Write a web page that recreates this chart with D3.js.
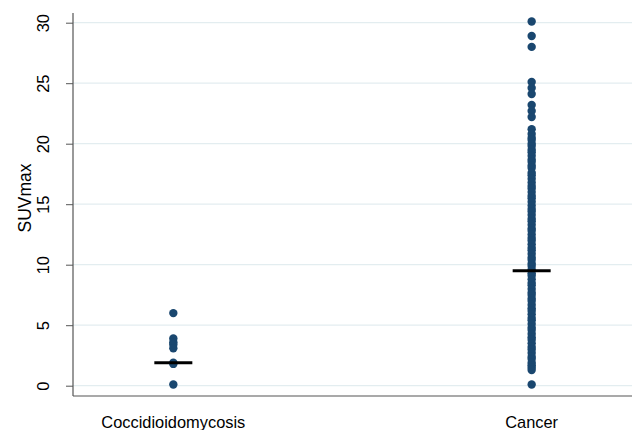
<!DOCTYPE html>
<html>
<head>
<meta charset="utf-8">
<script src="https://cdn.jsdelivr.net/npm/d3@7"></script>
<style>
  body { margin: 0; background: #fff; }
  text { font-family: "Liberation Sans", Arial, sans-serif; }
</style>
</head>
<body>
<svg id="chart"></svg>
<script>
const WIDTH = 633;
const HEIGHT = 430;

const categories = ["Coccidioidomycosis", "Cancer"];
const yTicks = [0, 5, 10, 15, 20, 25, 30];

const cocciValues = [6.0, 3.9, 3.6, 3.4, 3.1, 1.9, 1.8, 0.1];
const cancerValues = [
  30.1, 28.9, 28.0, 25.1, 24.6, 24.1, 23.2, 22.7, 22.2, 21.2, 20.8, 20.5,
  20.3, 20.0, 19.8, 19.5, 19.3, 19.0, 18.7, 18.5, 18.2, 18.0, 17.6, 17.4,
  17.1, 16.8, 16.5, 16.3, 16.0, 15.7, 15.5, 15.2, 14.9, 14.6, 14.4, 14.1,
  13.8, 13.6, 13.3, 13.0, 12.8, 12.5, 12.2, 12.0, 11.7, 11.4, 11.2, 10.9,
  10.6, 10.4, 10.1, 9.9, 9.6, 9.3, 9.1, 8.8, 8.5, 8.3, 8.0, 7.7, 7.5, 7.2,
  7.0, 6.7, 6.4, 6.2, 5.9, 5.6, 5.4, 5.1, 4.8, 4.6, 4.3, 4.0, 3.8, 3.5,
  3.2, 3.0, 2.7, 2.4, 2.2, 1.9, 1.7, 1.5, 1.3, 0.1
];
const medians = [1.9, 9.5];

const MARGIN = { top: 13, bottom: 34, right: 1, left: 73 };

const svg = d3.select("#chart")
  .attr("width", WIDTH)
  .attr("height", HEIGHT);

const escala_x = d3.scalePoint()
  .domain(categories)
  .range([MARGIN.left, WIDTH - MARGIN.right])
  .padding(0.28);

const escala_y = d3.scaleLinear()
  .domain([0, 30])
  .range([385.7, 22.7]);

// gridlines
svg.append("g")
  .selectAll("line")
  .data(yTicks)
  .join("line")
  .attr("x1", MARGIN.left)
  .attr("x2", WIDTH - MARGIN.right)
  .attr("y1", d => escala_y(d))
  .attr("y2", d => escala_y(d))
  .attr("stroke", "#e3edf0")
  .attr("stroke-width", 1.2);

// y axis
const ejeY = d3.axisLeft(escala_y).tickValues(yTicks).tickSize(7).tickSizeOuter(0);
const gy = svg.append("g")
  .attr("transform", `translate(${MARGIN.left}, 0)`)
  .call(ejeY);
gy.select(".domain").remove();
gy.selectAll(".tick line").attr("stroke", "#555");
gy.selectAll("text")
  .attr("font-size", 16.5)
  .attr("fill", "#000")
  .attr("transform", "rotate(-90)")
  .attr("x", 0)
  .attr("y", -30)
  .attr("dy", "0.35em")
  .attr("text-anchor", "middle");

svg.append("line")
  .attr("x1", MARGIN.left)
  .attr("x2", MARGIN.left)
  .attr("y1", MARGIN.top)
  .attr("y2", HEIGHT - MARGIN.bottom)
  .attr("stroke", "#555")
  .attr("stroke-width", 1.2);

// x axis
svg.append("line")
  .attr("x1", MARGIN.left)
  .attr("x2", WIDTH - MARGIN.right)
  .attr("y1", HEIGHT - MARGIN.bottom)
  .attr("y2", HEIGHT - MARGIN.bottom)
  .attr("stroke", "#555")
  .attr("stroke-width", 1.2);

svg.append("g")
  .selectAll("text")
  .data(categories)
  .join("text")
  .attr("x", d => escala_x(d))
  .attr("y", 428)
  .attr("text-anchor", "middle")
  .attr("font-size", 16.4)
  .text(d => d);

svg.append("text")
  .attr("transform", "translate(31, 198) rotate(-90)")
  .attr("text-anchor", "middle")
  .attr("font-size", 17.5)
  .text("SUVmax");

// points
const series = [cocciValues, cancerValues];
series.forEach((vals, i) => {
  svg.append("g")
    .selectAll("circle")
    .data(vals)
    .join("circle")
    .attr("cx", escala_x(categories[i]))
    .attr("cy", d => escala_y(d))
    .attr("r", 4.2)
    .attr("fill", "#1a476f");
});

// medians
svg.append("g")
  .selectAll("line")
  .data(medians)
  .join("line")
  .attr("x1", (d, i) => escala_x(categories[i]) - 19)
  .attr("x2", (d, i) => escala_x(categories[i]) + 19)
  .attr("y1", d => escala_y(d))
  .attr("y2", d => escala_y(d))
  .attr("stroke", "#000")
  .attr("stroke-width", 3);
</script>
</body>
</html>
